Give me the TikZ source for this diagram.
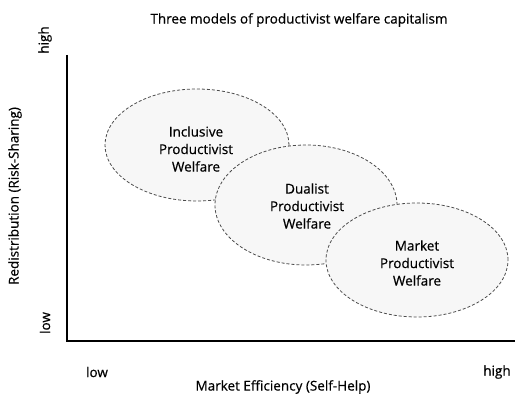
\documentclass[tikz,border=0pt]{standalone}
\usepackage{fontspec}
\setmainfont{Open Sans}
\newfontfamily\heavy{Open Sans}[FakeBold=0.6]
\usetikzlibrary{shapes.geometric}
\tikzset{
  regime/.style={ellipse, draw=black!70, densely dashed, line width=0.8pt, fill=black!3,
    inner sep=0pt},
  regtext/.style={align=center, font=\heavy\fontsize{13.5}{17.5}\selectfont, inner sep=0pt},
  axislbl/.style={font=\heavy\fontsize{13.5}{16}\selectfont, inner sep=0pt},
  axisline/.style={line width=1.8pt, black}
}
\begin{document}
\begin{tikzpicture}[x=1pt,y=-1pt]
\useasboundingbox (0,0) rectangle (515,395);
\node[axislbl] (title) at (299,20) {Three models of productivist welfare capitalism};
\coordinate (top) at (67,55);
\coordinate (origin) at (67,341);
\coordinate (right) at (515,341);
\draw[axisline] (top) -- (origin) -- (right);
\node[axislbl, rotate=90] (yhigh) at (45,40) {high};
\node[axislbl, rotate=90] (ylow) at (45,323) {low};
\node[axislbl, rotate=90] (ylab) at (15,196) {Redistribution (Risk-Sharing)};
\node[axislbl] (xlow) at (97,372) {low};
\node[axislbl] (xhigh) at (497,372) {high};
\node[axislbl] (xlab) at (283,387) {Market Efficiency (Self-Help)};
\node[regime, minimum width=184pt, minimum height=112pt] (incl) at (197,145) {};
\node[regime, minimum width=182pt, minimum height=120pt] (dual) at (306,205) {};
\node[regime, minimum width=182pt, minimum height=114pt] (mkt) at (417,260) {};
\node[regtext] (tincl) at (196,149) {Inclusive\\Productivist\\Welfare};
\node[regtext] (tdual) at (307,206) {Dualist\\Productivist\\Welfare};
\node[regtext] (tmkt) at (417,263) {Market\\Productivist\\Welfare};
\end{tikzpicture}
\end{document}
